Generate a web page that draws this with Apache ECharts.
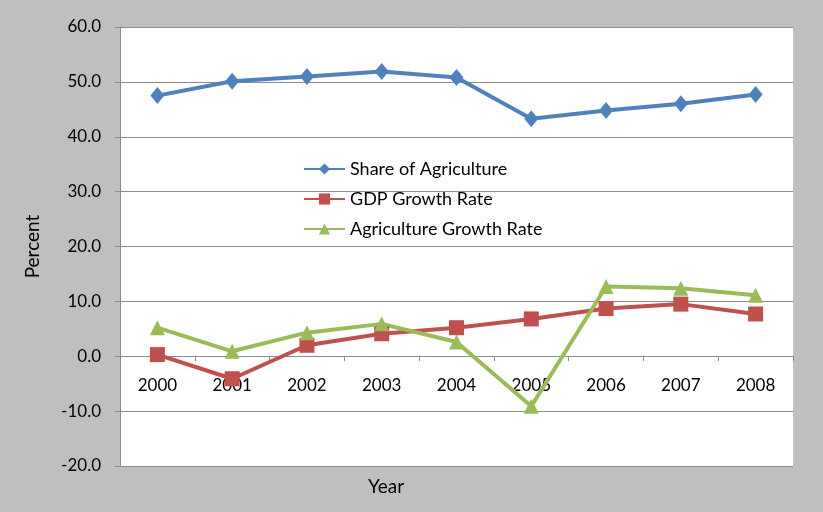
<!DOCTYPE html>
<html>
<head>
<meta charset="utf-8">
<script src="https://cdn.jsdelivr.net/npm/echarts@6/dist/echarts.min.js"></script>
<style>
  html, body { margin: 0; padding: 0; background: #bfbfbf; }
  #main { width: 823px; height: 512px; }
</style>
</head>
<body>
<div id="main"></div>
<script>
// data
var years = ["2000", "2001", "2002", "2003", "2004", "2005", "2006", "2007", "2008"];
var shareOfAgriculture = [47.5, 50.1, 51.0, 51.9, 50.8, 43.3, 44.8, 46.0, 47.7];
var gdpGrowthRate = [0.3, -4.1, 2.0, 4.1, 5.2, 6.8, 8.7, 9.5, 7.7];
var agricultureGrowthRate = [5.2, 0.9, 4.3, 5.9, 2.6, -9.1, 12.7, 12.4, 11.1];

var font = "Lato, 'Open Sans', sans-serif";

var chart = echarts.init(document.getElementById("main"));
var option = {
  backgroundColor: "#bfbfbf",
  animation: false,
  textStyle: { fontFamily: font },
  grid: {
    left: 120, right: 30, top: 27, bottom: 46,
    show: true, backgroundColor: "#ffffff", borderWidth: 0
  },
  legend: {
    orient: "vertical",
    left: 298, top: 155,
    itemWidth: 41, itemHeight: 14, itemGap: 12,
    textStyle: { fontSize: 18, color: "#000", fontFamily: font },
    data: ["Share of Agriculture", "GDP Growth Rate", "Agriculture Growth Rate"]
  },
  xAxis: {
    type: "category",
    data: years,
    // axis drawn on the zero line (110px above the grid bottom)
    offset: -110,
    axisLine: { onZero: false, lineStyle: { color: "#8c8c8c", width: 1 } },
    axisTick: { show: true, length: 5, lineStyle: { color: "#8c8c8c" } },
    axisLabel: { fontSize: 17, color: "#000", margin: 21 }
  },
  yAxis: {
    type: "value",
    min: -20, max: 60, interval: 10,
    name: "Percent",
    nameLocation: "middle",
    nameGap: 78,
    nameTextStyle: { fontSize: 19, color: "#000" },
    axisLine: { show: true, lineStyle: { color: "#8c8c8c" } },
    axisTick: { show: true, length: 5, lineStyle: { color: "#8c8c8c" } },
    axisLabel: {
      fontSize: 17, color: "#000", margin: 19,
      formatter: function (v) { return v.toFixed(1); }
    },
    splitLine: { lineStyle: { color: "#8c8c8c", width: 1 } }
  },
  graphic: [
    {
      type: "text", left: 368, top: 477,
      style: { text: "Year", font: "19px " + font, fill: "#000" }
    }
  ],
  series: [
    {
      name: "Share of Agriculture",
      type: "line",
      data: shareOfAgriculture,
      symbol: "diamond", symbolSize: [14, 17],
      itemStyle: { color: "#4f81bd" },
      lineStyle: { color: "#4f81bd", width: 4 }
    },
    {
      name: "GDP Growth Rate",
      type: "line",
      data: gdpGrowthRate,
      symbol: "rect", symbolSize: 15,
      itemStyle: { color: "#c0504d" },
      lineStyle: { color: "#c0504d", width: 4 }
    },
    {
      name: "Agriculture Growth Rate",
      type: "line",
      data: agricultureGrowthRate,
      symbol: "triangle", symbolSize: 15,
      itemStyle: { color: "#9bbb59" },
      lineStyle: { color: "#9bbb59", width: 4 }
    }
  ]
};
chart.setOption(option);
</script>
</body>
</html>
